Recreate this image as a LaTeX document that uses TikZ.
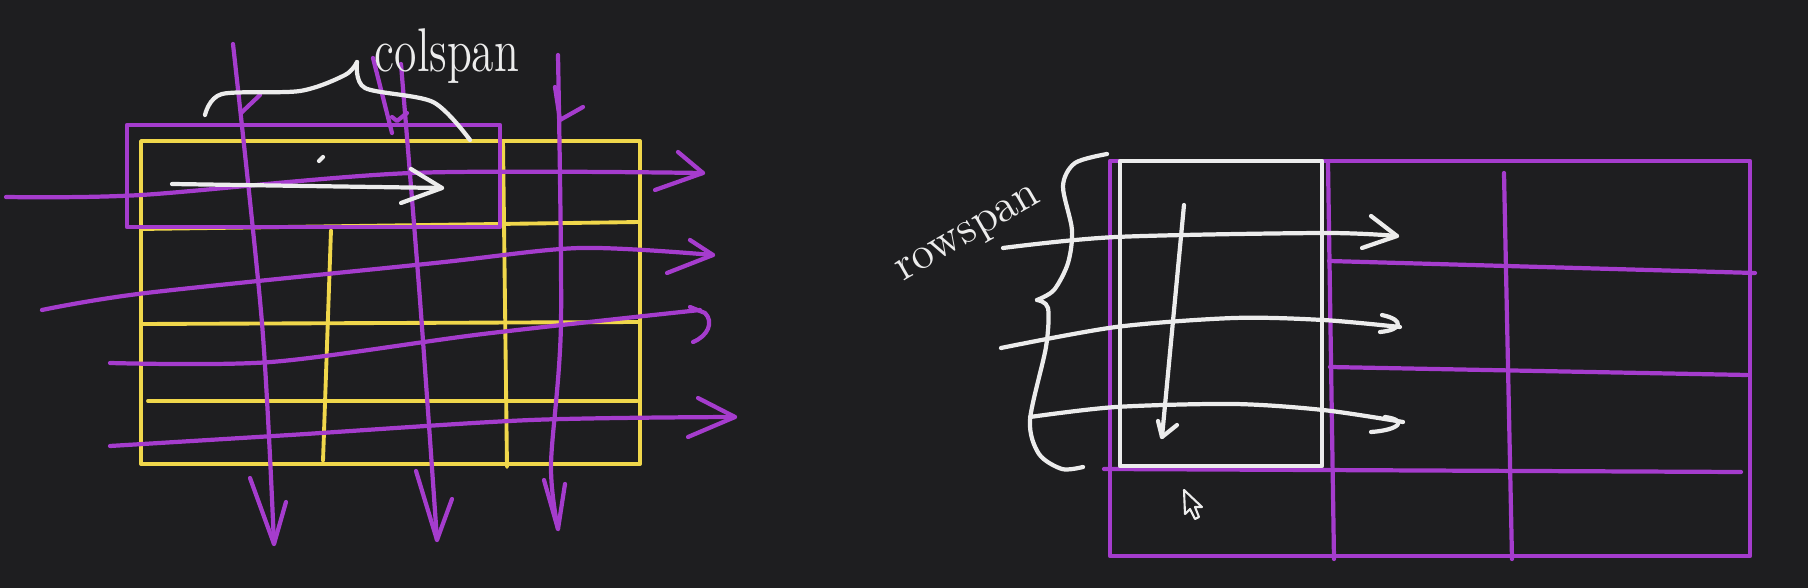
\documentclass[tikz,border=0pt]{standalone}
\usetikzlibrary{calc}
\definecolor{sketchbg}{RGB}{30,30,32}
\definecolor{penpurple}{RGB}{165,60,205}
\definecolor{penyellow}{RGB}{240,215,75}
\definecolor{penwhite}{RGB}{236,236,236}

\begin{document}
\begin{tikzpicture}[x=0.01cm, y=-0.01cm,
    pen/.style={line width=1.2pt, line cap=round, line join=round},
    purplepen/.style={pen, draw=penpurple},
    yellowpen/.style={pen, draw=penyellow, line width=1.1pt},
    whitepen/.style={pen, draw=penwhite},
    handtext/.style={text=penwhite, font=\fontsize{13}{13}\selectfont}]

  % Background
  \fill[sketchbg] (0,0) rectangle (1808,588);
  \useasboundingbox (0,0) rectangle (1808,588);

  % Left table: yellow grid
  \draw[yellowpen] (141,141) rectangle (640,464);
  \draw[yellowpen] (141,229) -- (640,222);
  \draw[yellowpen] (141,324) -- (640,322);
  \draw[yellowpen] (148,401) -- (637,401);
  \draw[yellowpen] (331,230) -- (323,461);
  \draw[yellowpen] (503,141) -- (507,467);

  % Colspan cell
  \draw[purplepen] (127,125) rectangle (500,227);

  % Row sweeps (purple)
  \coordinate (rowtipA) at (703,173);
  \coordinate (rowtipB) at (713,255);
  \coordinate (rowtipC) at (700,310);
  \coordinate (rowtipD) at (735,417);
  \draw[purplepen] plot[smooth] coordinates {(6,197) (141,195) (411,173) (rowtipA)};
  \draw[purplepen] (678,152) -- (rowtipA) -- (655,190);
  \draw[purplepen] plot[smooth] coordinates {(42,310) (146,293) (435,263) (580,248) (rowtipB)};
  \draw[purplepen] (690,240) -- (rowtipB) -- (667,273);
  \draw[purplepen] plot[smooth] coordinates {(110,363) (271,362) (483,334) (rowtipC)};
  \draw[purplepen] (690,307) -- (705,313) .. controls (714,322) and (708,336) .. (693,342);
  \draw[purplepen] plot[smooth] coordinates {(110,446) (290,435) (531,420) (rowtipD)};
  \draw[purplepen] (698,398) -- (rowtipD) -- (688,437);

  % Column sweeps (purple)
  \coordinate (coltipA) at (274,544);
  \coordinate (coltipB) at (437,540);
  \coordinate (coltipC) at (558,529);
  \draw[purplepen] plot[smooth] coordinates {(233,44) (262,323) (coltipA)};
  \draw[purplepen] (250,478) -- (coltipA) -- (286,502);
  \draw[purplepen] (241,113) -- (260,95);
  \draw[purplepen] plot[smooth] coordinates {(401,64) (420,300) (coltipB)};
  \draw[purplepen] (416,471) -- (coltipB) -- (452,499);
  \draw[purplepen] (373,58) -- (392,133);
  \draw[purplepen] (392,117) -- (397,121) -- (407,113);
  \draw[purplepen] plot[smooth] coordinates {(558,55) (561,323) (551,465) (coltipC)};
  \draw[purplepen] (544,480) -- (coltipC) -- (565,484);
  \draw[purplepen] (555,87) -- (560,120) -- (583,107);

  % Colspan arrow, brace and label (white)
  \coordinate (spantip) at (442,188);
  \draw[whitepen] (172,184) -- (spantip);
  \draw[whitepen] (411,169) -- (spantip) -- (401,203);
  \draw[whitepen] (319,161) -- (323,157);
  \draw[whitepen] plot[smooth] coordinates {(205,115) (222,94) (300,91) (345,75) (357,62)};
  \draw[whitepen] plot[smooth] coordinates {(357,62) (365,88) (433,102) (470,140)};
  \node[handtext, anchor=base, yscale=1.35] (colspanlabel) at (447,72) {colspan};

  % Right table: purple grid
  \draw[purplepen] (1110,161) rectangle (1750,556);
  \draw[purplepen] (1329,261) -- (1755,273);
  \draw[purplepen] (1330,367) -- (1747,375);
  \draw[purplepen] (1104,469) -- (1741,472);
  \draw[purplepen] (1328,163) -- (1334,559);
  \draw[purplepen] (1504,173) -- (1512,559);

  % Rowspan cell
  \draw[whitepen] (1120,161) rectangle (1322,466);
  \coordinate (downtip) at (1162,437);
  \draw[whitepen] (1184,205) -- (downtip);
  \draw[whitepen] (1158,421) -- (downtip) -- (1177,425);

  % Row sweeps (white)
  \coordinate (celltipA) at (1397,236);
  \coordinate (celltipB) at (1400,327);
  \coordinate (celltipC) at (1403,422);
  \draw[whitepen] plot[smooth] coordinates {(1003,248) (1116,237) (1323,233) (celltipA)};
  \draw[whitepen] (1371,216) -- (celltipA) -- (1362,248);
  \draw[whitepen] plot[smooth] coordinates {(1001,348) (1116,327) (1234,318) (1323,320) (celltipB)};
  \draw[whitepen] (1382,315) .. controls (1405,320) and (1402,330) .. (1380,332);
  \draw[whitepen] plot[smooth] coordinates {(1030,417) (1116,407) (1234,404) (1323,410) (celltipC)};
  \draw[whitepen] (1385,417) .. controls (1408,420) and (1400,430) .. (1371,432);

  % Rowspan brace and label
  \draw[whitepen] plot[smooth] coordinates {(1107,154) (1075,163) (1063,186) (1072,230) (1068,263) (1054,290) (1037,300)};
  \draw[whitepen] plot[smooth] coordinates {(1037,300) (1048,308) (1046,347) (1030,420) (1039,454) (1062,469) (1083,467)};
  \node[handtext, rotate=30] (rowspanlabel) at (970,236) {rowspan};

  % Mouse pointer
  \draw[penwhite, fill=sketchbg, line width=0.6pt, line join=round]
    (1184,490) -- (1185,514) -- (1190,509) -- (1195,519) -- (1199,517) -- (1195,507) -- (1202,507) -- cycle;
\end{tikzpicture}
\end{document}
